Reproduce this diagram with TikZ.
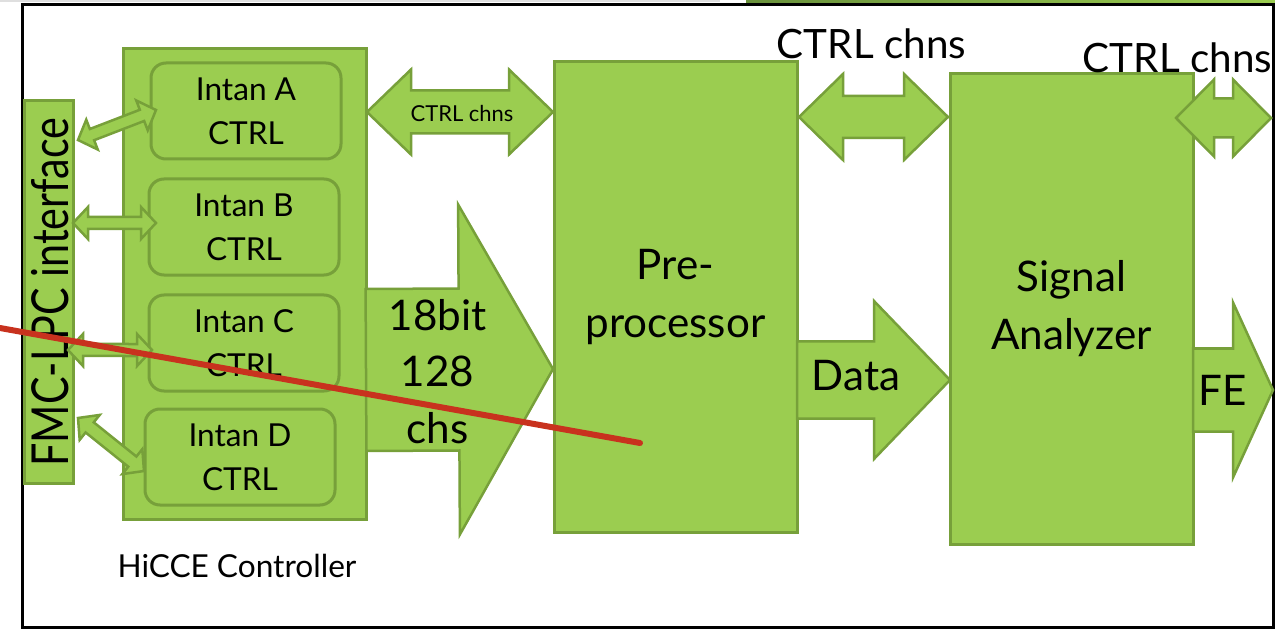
\documentclass[tikz,border=0pt]{standalone}
\usepackage{fontspec}
\setmainfont{Lato}
\usepackage{graphicx}
\usetikzlibrary{calc}
\definecolor{grnfill}{RGB}{155,205,80}
\definecolor{grnline}{RGB}{119,160,58}
\definecolor{grndark}{RGB}{105,145,60}
\definecolor{redline}{RGB}{200,50,30}
\begin{document}
\begin{tikzpicture}[x=0.2mm,y=-0.2mm,line join=miter]
\tikzset{box/.style={draw=grnline,fill=grnfill,line width=0.6mm,inner sep=0pt,outer sep=0pt},
  intan/.style={box,rounded corners=3mm,minimum width=3.8cm,minimum height=1.92cm,align=center,font=\fontsize{18}{25}\selectfont},
  big/.style={box,minimum width=4.86cm,minimum height=9.4cm,align=center,font=\fontsize{24}{33}\selectfont},
  blk/.style={draw=grnline,fill=grnfill,line width=0.5mm},
  lbl/.style={font=\fontsize{24}{32}\selectfont,align=center,inner sep=0pt}}
\useasboundingbox (0,0) rectangle (1275,629);
\fill[gray!25] (0,0) rectangle (720,2);
\fill[left color=grndark,right color=grnfill] (746,0) rectangle (1275,4);
\draw[line width=0.6mm] (22,5) rectangle (1273,627);

\node[box,minimum width=0.98cm,minimum height=7.64cm] (fmc) at (48.5,292) {\hspace{0.5mm}\rotatebox{90}{\fontsize{29}{29}\selectfont\scalebox{0.81}[1]{FMC-LPC interface}}};
\node[box,minimum width=4.86cm,minimum height=9.4cm] (ctrl) at (244.5,284) {};
\node[intan] (ia) at (246,111) {Intan A\\CTRL};
\node[intan] (ib) at (244,227) {Intan B\\CTRL};
\node[intan] (ic) at (244,343) {Intan C\\CTRL};
\node[intan] (id) at (240,457) {Intan D\\CTRL};
\node[font=\fontsize{18}{22}\selectfont,anchor=base,inner sep=0pt] (hicce) at (237,577) {HiCCE Controller};
\node[big] (pre) at (675.5,297) {Pre-\\processor};
\node[big] (sig) at (1071.5,309) {Signal\\Analyzer};

\coordinate (a1) at ($(fmc.north east)+(5,39)$);
\coordinate (a2) at ($(ia.west)+(5,-1)$);
\coordinate (b1) at ($(fmc.north east)+(0,122)$);
\coordinate (b2) at ($(ib.west)+(7,-4)$);
\coordinate (c1) at ($(fmc.north east)+(-5,249)$);
\coordinate (c2) at ($(ic.west)+(3,7)$);
\coordinate (d1) at ($(fmc.south east)+(5,-65)$);
\coordinate (d2) at ($(id.west)+(-1,14)$);
\coordinate (k1) at ($(ctrl.north east)+(1,63)$);
\coordinate (k2) at ($(pre.north west)+(-1,50)$);
\coordinate (k3) at ($(pre.north east)+(2,55)$);
\coordinate (k4) at ($(sig.north west)+(-2,43)$);
\coordinate (k5) at ($(sig.north east)+(-17,44)$);
\coordinate (k6) at ($(sig.north east)+(78,44)$);
\coordinate (s1) at ($(ctrl.east)+(0,86)$);
\coordinate (s2) at ($(pre.west)+(-1,72)$);
\coordinate (s3) at ($(pre.east)+(0,83)$);
\coordinate (s4) at ($(sig.west)+(0,71)$);
\coordinate (s5) at ($(sig.east)+(0,81)$);
\coordinate (s6) at ($(sig.east)+(80,81)$);

\foreach \p/\q/\l/\h/\s in {a1/a2/3mm/3.2mm/1.2mm,b1/b2/3mm/3.2mm/1.2mm,c1/c2/3mm/3.2mm/1.2mm,d1/d2/3mm/3.2mm/1.3mm,k1/k2/8.8mm/8.5mm/4.3mm,k3/k4/8.8mm/8.6mm/4.2mm,k5/k6/7.6mm/7.7mm/3.9mm}{
  \coordinate (u) at ($(\p)!\l!(\q)$);
  \coordinate (v) at ($(\q)!\l!(\p)$);
  \filldraw[blk] (\p) -- ($(u)!\h!90:(\q)$) -- ($(u)!\s!90:(\q)$) -- ($(v)!\s!-90:(\p)$) -- ($(v)!\h!-90:(\p)$) -- (\q) -- ($(v)!\h!90:(\p)$) -- ($(v)!\s!90:(\p)$) -- ($(u)!\s!-90:(\q)$) -- ($(u)!\h!-90:(\q)$) -- cycle;
}
\foreach \p/\q/\l/\h/\s in {s1/s2/18.8mm/33mm/16.2mm,s3/s4/15.2mm/15.8mm/7.7mm,s5/s6/8mm/17.5mm/8.3mm}{
  \coordinate (v) at ($(\q)!\l!(\p)$);
  \filldraw[blk] ($(\p)!\s!90:(\q)$) -- ($(v)!\s!-90:(\p)$) -- ($(v)!\h!-90:(\p)$) -- (\q) -- ($(v)!\h!90:(\p)$) -- ($(v)!\s!90:(\p)$) -- ($(\p)!\s!-90:(\q)$) -- cycle;
}

\node[font=\fontsize{12.5}{15}\selectfont,anchor=base,inner sep=0pt] (kl1) at ($(k1)!0.5!(k2)+(2,10)$) {CTRL chns};
\node[lbl,font=\fontsize{23}{28}\selectfont,anchor=base] (kl2) at ($(k3)!0.5!(k4)+(-2,-58)$) {CTRL chns};
\node[lbl,font=\fontsize{23}{28}\selectfont,anchor=base] (kl3) at ($(k5)!0.5!(k6)+(-46,-45)$) {CTRL chns};
\node[lbl] (bits) at ($(s1)!0.5!(s2)+(-22,2)$) {18bit\\128\\chs};
\node[lbl,anchor=base] (data) at ($(s3)!0.5!(s4)+(-17.5,10)$) {Data};
\node[lbl,anchor=base] (fe) at ($(s5)!0.5!(s6)+(-10,15)$) {FE};

\draw[redline,line width=1.2mm,line cap=round] (0,328) -- (640,443);
\end{tikzpicture}
\end{document}
